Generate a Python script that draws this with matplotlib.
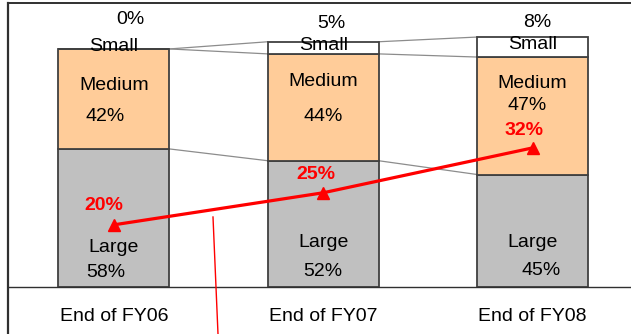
import matplotlib
matplotlib.use("Agg")
import matplotlib.pyplot as plt
from matplotlib.lines import Line2D

plt.rcParams['font.family'] = ['Liberation Sans', 'DejaVu Sans']

# Data
categories = ["End of FY06", "End of FY07", "End of FY08"]
totals = [100, 102, 105]          # relative size of each year's bar
large_share = [58, 52, 45]        # %
medium_share = [42, 44, 47]       # %
small_share = [0, 5, 8]           # %
ratio_line = [20, 25, 32]         # % (red line)

seg_names = ["Large", "Medium", "Small"]
seg_colors = ["#C0C0C0", "#FFCC99", "#FFFFFF"]

W, H = 631, 334
fig = plt.figure(figsize=(W / 100, H / 100), dpi=100)
ax = fig.add_axes([8 / W, (H - 287) / H, 1 - 8 / W, (287 - 3) / H])

x = list(range(len(categories)))
bar_w = 0.53

shares = [large_share, medium_share, small_share]
bottoms = [0.0] * len(x)
edges = []  # cumulative boundaries per bar
for share, color in zip(shares, seg_colors):
    heights = [t * s / 100 for t, s in zip(totals, share)]
    ax.bar(x, heights, bar_w, bottom=bottoms, color=color,
           edgecolor="#404040", linewidth=1.3, zorder=2)
    bottoms = [b + h for b, h in zip(bottoms, heights)]
    edges.append(list(bottoms))

# Series connector lines between neighbouring bars
for lvl in edges:
    for i in range(len(x) - 1):
        ax.plot([x[i] + bar_w / 2, x[i + 1] - bar_w / 2], [lvl[i], lvl[i + 1]],
                color="#8C8C8C", linewidth=0.9, zorder=1)

ax.set_xlim(-0.506, 2.47)
ax.set_ylim(0, 119.3)
ax.set_xticks([])
ax.set_yticks([])
ax.spines["right"].set_visible(False)
ax.spines["left"].set_visible(False)
ax.spines["top"].set_linewidth(1.3)
ax.spines["top"].set_color("#202020")
ax.spines["bottom"].set_linewidth(1.0)
ax.spines["bottom"].set_color("#303030")

fs = 14
# Segment labels (name and share)
small_lbl_y = [112.3, 110.5, 110.9]
small_lbl_dx = [0.08, 0.04, 0.02]
for i in x:
    ax.text(x[i] + small_lbl_dx[i], small_lbl_y[i], f"{small_share[i]}%",
            ha="center", va="center", fontsize=fs)
    ax.text(x[i], [101.0, 101.4, 101.8][i], "Small", ha="center",
            va="center", fontsize=fs, zorder=5)
    ax.text(x[i], [84.8, 86.5, 85.6][i], "Medium", ha="center",
            va="center", fontsize=fs, zorder=5)
    ax.text(x[i] + [-0.04, 0.0, -0.025][i], [71.5, 71.5, 76.2][i],
            f"{medium_share[i]}%", ha="center", va="center", fontsize=fs, zorder=5)
    ax.text(x[i], [16.8, 18.9, 18.5][i], "Large", ha="center",
            va="center", fontsize=fs, zorder=5)
    ax.text(x[i] + [-0.04, 0.0, 0.04][i], [6.3, 6.5, 6.8][i],
            f"{large_share[i]}%", ha="center", va="center", fontsize=fs, zorder=5)
    ax.text(x[i], -12.3, categories[i], ha="center", va="center",
            fontsize=fs, clip_on=False)

# Red ratio line on a secondary scale
ax2 = ax.twinx()
ax2.set_ylim(10.3, 54.6)
ax2.set_yticks([])
for s in ax2.spines.values():
    s.set_visible(False)
ax2.plot(x, ratio_line, color="#FF0000", linewidth=2.3, marker="^",
         markersize=9, zorder=6)
for i in x:
    ax2.annotate(f"{ratio_line[i]}%", (x[i], ratio_line[i]),
                 xytext=[(-7, 14), (-5, 13), (-6, 12.5)][i],
                 textcoords="offset points", ha="center", va="center",
                 color="#FF0000", fontsize=fs, fontweight="bold")

# Outer frame line on the left and the red pointer line
fig.add_artist(Line2D([7.5 / W, 7.5 / W], [0, 1 - 3 / H], color="#303030",
                      linewidth=1.6))
fig.add_artist(Line2D([213 / W, 218 / W], [1 - 217 / H, 0], color="#FF0000",
                      linewidth=1.0))

fig.savefig("out.png", dpi=100)
